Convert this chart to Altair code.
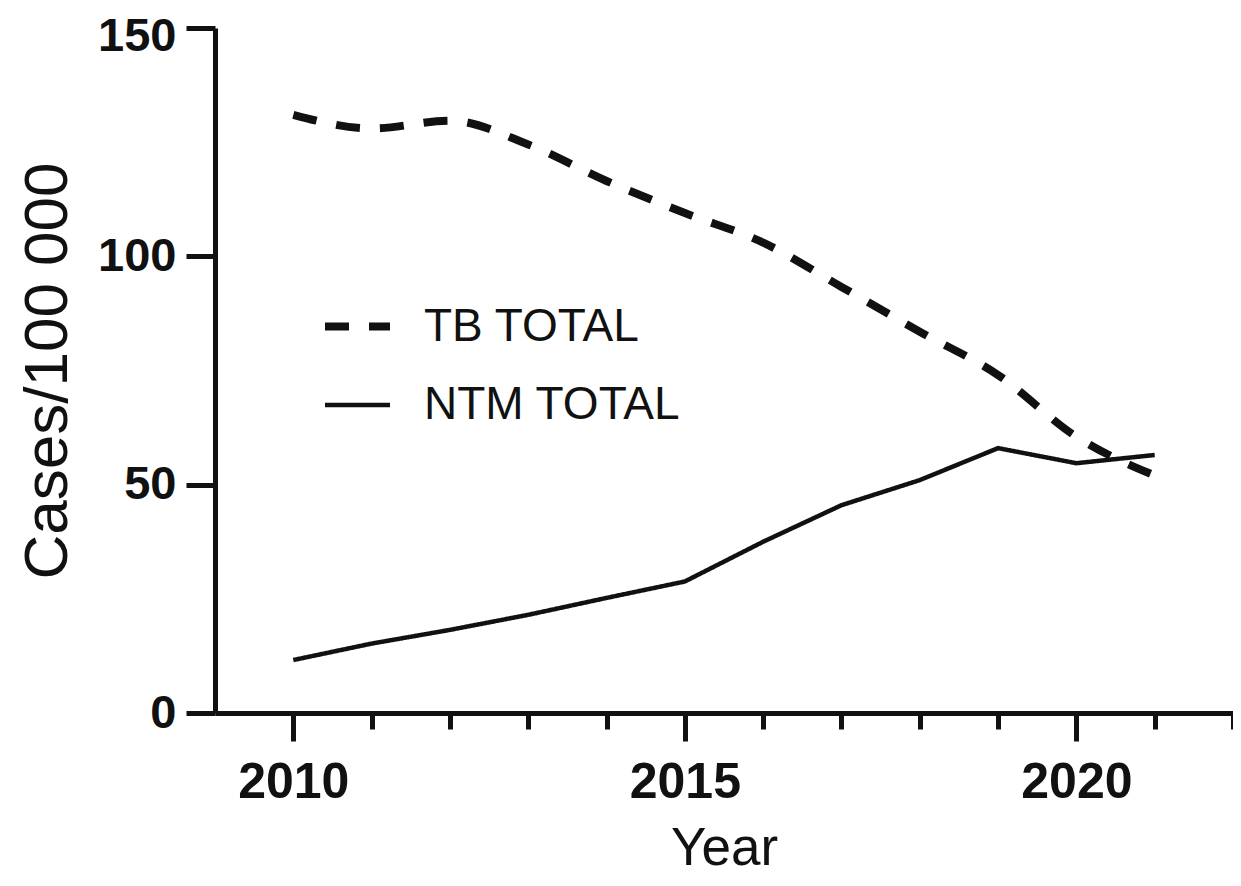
import altair as alt
import pandas as pd

# ---- data ----
years = list(range(2010, 2022))
tb_total = [131.0, 128.0, 129.7, 124.5, 116.5, 109.5, 103.0, 93.3, 83.5, 74.0, 60.5, 52.0]
ntm_total = [11.6, 15.2, 18.2, 21.5, 25.2, 28.8, 37.5, 45.5, 51.0, 58.0, 54.7, 56.5]
series_names = ["TB TOTAL", "NTM TOTAL"]
x_tick_values = list(range(2010, 2023))
y_tick_values = [0, 50, 100, 150]

df = pd.DataFrame({
    "Year": years * 2,
    "Cases": tb_total + ntm_total,
    "Series": [series_names[0]] * len(years) + [series_names[1]] * len(years),
})

FONT = "Liberation Sans"
INK = "#111111"

legend = alt.Legend(
    orient="none", legendX=106, legendY=262, title=None,
    symbolType="stroke", symbolSize=4225, symbolStrokeColor=INK,
    labelFont=FONT, labelFontSize=46, labelColor=INK, labelOffset=30,
    labelLimit=600, rowPadding=20, padding=0,
)

x_enc = alt.X(
    "Year:Q",
    scale=alt.Scale(domain=[2009, 2022], nice=False, zero=False),
    axis=alt.Axis(
        values=x_tick_values, format="d",
        labelExpr="datum.value % 5 === 0 ? datum.label : ''",
        tickSize={"condition": {"test": "datum.value % 5 === 0", "value": 28}, "value": 16},
        tickWidth=5, domainWidth=5, tickColor=INK, domainColor=INK,
        labelFont=FONT, labelFontSize=50, labelFontWeight="bold", labelColor=INK,
        labelPadding=16, labelFlush=False, labelOverlap=False,
        title="Year", titleFont=FONT, titleFontSize=53, titleFontWeight="normal",
        titleColor=INK, titlePadding=15, grid=False,
    ),
)
y_enc = alt.Y(
    "Cases:Q",
    scale=alt.Scale(domain=[0, 150], nice=False),
    axis=alt.Axis(
        values=y_tick_values, tickSize=29, tickWidth=5, domainWidth=5,
        tickColor=INK, domainColor=INK,
        labelFont=FONT, labelFontSize=47, labelFontWeight="bold", labelColor=INK,
        labelPadding=10,
        labelOffset={"condition": {"test": "datum.value === 150", "value": 8}, "value": 0},
        title="Cases/100 000", titleFont=FONT, titleFontSize=62,
        titleFontWeight="normal", titleColor=INK, titlePadding=18, grid=False,
    ),
)
dash_enc = alt.StrokeDash(
    "Series:N",
    scale=alt.Scale(domain=series_names, range=[[24, 20], [1, 0]]),
    legend=legend,
)
width_enc = alt.StrokeWidth(
    "Series:N",
    scale=alt.Scale(domain=series_names, range=[8, 4.5]),
    legend=legend,
)

base = alt.Chart(df).encode(x=x_enc, y=y_enc, strokeDash=dash_enc, strokeWidth=width_enc)

tb_layer = base.transform_filter(alt.datum.Series == series_names[0]).mark_line(
    interpolate="monotone", color=INK, strokeCap="butt"
)
ntm_layer = base.transform_filter(alt.datum.Series == series_names[1]).mark_line(
    interpolate="linear", color=INK, strokeCap="butt", strokeJoin="miter"
)

chart = (
    alt.layer(tb_layer, ntm_layer)
    .properties(
        width=1018, height=685,
        autosize=alt.AutoSizeParams(type="none"),
        padding={"left": 207, "top": 20, "right": 0, "bottom": 165},
        background="white",
    )
    .configure_view(stroke=None)
)

chart.save("out.html", embed_options={"renderer": "svg", "actions": False})
